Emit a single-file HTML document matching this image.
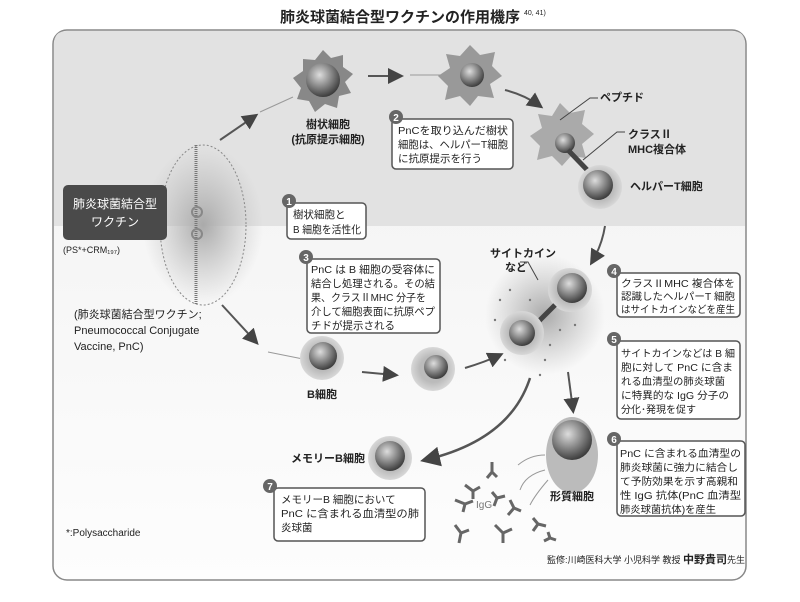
<!DOCTYPE html>
<html><head><meta charset="utf-8"><style>
body{margin:0;background:#fff;width:800px;height:602px;overflow:hidden}
svg{display:block}
text{font-family:"Liberation Sans","Noto Sans CJK JP",sans-serif;fill:#222}
.b{font-weight:bold}
.bx{fill:#fff;stroke:#555;stroke-width:1.5}
.t{font-size:10.5px}
.s{font-size:10px}
</style></head><body>
<svg width="800" height="602" viewBox="0 0 800 602">
<defs>
<linearGradient id="bg" x1="0" y1="0" x2="0" y2="1">
<stop offset="0" stop-color="#f1f1f1"/><stop offset="1" stop-color="#fdfdfd"/></linearGradient>
<radialGradient id="sph" cx="0.4" cy="0.35" r="0.7"><stop offset="0" stop-color="#ddd"/><stop offset="0.5" stop-color="#888"/><stop offset="1" stop-color="#333"/></radialGradient>
<radialGradient id="cel" cx="0.5" cy="0.5" r="0.5"><stop offset="0.6" stop-color="#bbb"/><stop offset="1" stop-color="#d8d8d8"/></radialGradient>
<radialGradient id="glow" cx="0.5" cy="0.5" r="0.5"><stop offset="0" stop-color="#aaa"/><stop offset="1" stop-color="#bbb" stop-opacity="0"/></radialGradient>
<marker id="ar" markerWidth="8" markerHeight="8" refX="6" refY="4" orient="auto"><path d="M0,0 L8,4 L0,8 z" fill="#444"/></marker>
</defs>
<text x="400" y="22" text-anchor="middle" class="b" font-size="15">肺炎球菌結合型ワクチンの作用機序</text>
<text x="524" y="15" font-size="7">40, 41)</text>
<rect x="53" y="30" width="693" height="550" rx="14" fill="url(#bg)" stroke="#888" stroke-width="1.5"/>
<path d="M54,44 Q54,31 67,31 L732,31 Q745,31 745,44 L745,226 L54,226 Z" fill="#e2e2e2"/>
<ellipse cx="203" cy="225" rx="60" ry="80" fill="url(#glow)"/>
<ellipse cx="203" cy="225" rx="43" ry="80" fill="none" stroke="#888" stroke-dasharray="2,2"/>
<path d="M196,145 L196,305" stroke="#777" stroke-width="3" stroke-dasharray="1,1"/>
<circle cx="197" cy="212" r="5" fill="none" stroke="#888" stroke-width="2"/>
<circle cx="197" cy="234" r="5" fill="none" stroke="#888" stroke-width="2"/>
<rect x="63" y="185" width="104" height="55" rx="5" fill="#4a4a4a"/>
<text x="115" y="208" text-anchor="middle" font-size="12" style="fill:#fff">肺炎球菌結合型</text>
<text x="115" y="226" text-anchor="middle" font-size="12" style="fill:#fff">ワクチン</text>
<text x="63" y="253" font-size="9">(PS*+CRM₁₉₇)</text>
<text x="74" y="318" font-size="11">(肺炎球菌結合型ワクチン;</text>
<text x="74" y="334" font-size="11">Pneumococcal Conjugate</text>
<text x="74" y="350" font-size="11">Vaccine, PnC)</text>
<polygon points="323,50 331,58 343,55 343,67 353,74 345,82 351,93 339,96 337,108 325,104 315,112 309,101 297,99 301,88 293,78 303,71 303,59 315,60" fill="#888"/>
<circle cx="323" cy="80" r="17" fill="url(#sph)"/>
<text x="328" y="128" text-anchor="middle" class="b" font-size="11">樹状細胞</text>
<text x="328" y="143" text-anchor="middle" class="b" font-size="11">(抗原提示細胞)</text>
<line x1="220" y1="140" x2="255" y2="116" stroke="#555" stroke-width="2" marker-end="url(#ar)"/>
<line x1="260" y1="112" x2="293" y2="97" stroke="#999"/>
<line x1="368" y1="76" x2="400" y2="76" stroke="#555" stroke-width="2" marker-end="url(#ar)"/>
<line x1="410" y1="75" x2="460" y2="75" stroke="#999"/>
<polygon points="470,45 480,55 495,52 492,66 502,76 490,84 494,98 478,96 470,106 460,96 445,100 448,86 438,76 450,68 446,54 460,56" fill="#999"/>
<circle cx="472" cy="75" r="12" fill="url(#sph)"/>
<path d="M505,90 Q525,95 540,106" stroke="#555" stroke-width="2" fill="none" marker-end="url(#ar)"/>
<rect x="392" y="119" width="121" height="50" rx="4" class="bx"/>
<circle cx="396" cy="117" r="7" fill="#666"/><text x="396" y="121" text-anchor="middle" font-size="10" class="b" style="fill:#fff">2</text>
<text x="398" y="134" class="t" textLength="110" lengthAdjust="spacingAndGlyphs">PnCを取り込んだ樹状</text>
<text x="398" y="148" class="t" textLength="110" lengthAdjust="spacingAndGlyphs">細胞は、ヘルパーT細胞</text>
<text x="398" y="162" class="t">に抗原提示を行う</text>
<polygon points="560,103 570,113 585,110 582,124 594,134 582,144 586,158 571,156 562,166 552,156 537,160 540,146 530,136 542,128 538,114 552,116" fill="#aaa"/>
<circle cx="565" cy="143" r="10" fill="url(#sph)"/>
<line x1="568" y1="150" x2="592" y2="175" stroke="#444" stroke-width="5"/>
<circle cx="600" cy="187" r="22" fill="url(#cel)"/><circle cx="598" cy="185" r="15" fill="url(#sph)"/>
<path d="M560,120 L590,98 L598,98" stroke="#444" fill="none"/>
<text x="600" y="101" class="b" font-size="11">ペプチド</text>
<path d="M583,160 L617,132 L625,132" stroke="#444" fill="none"/>
<text x="628" y="138" class="b" font-size="11">クラスⅡ</text>
<text x="628" y="153" class="b" font-size="11">MHC複合体</text>
<text x="630" y="190" class="b" font-size="11">ヘルパーT細胞</text>
<rect x="287" y="203" width="79" height="36" rx="4" class="bx"/>
<circle cx="289" cy="201" r="7" fill="#666"/><text x="289" y="205" text-anchor="middle" font-size="10" class="b" style="fill:#fff">1</text>
<text x="293" y="218" class="t">樹状細胞と</text>
<text x="293" y="233" class="t" textLength="68" lengthAdjust="spacingAndGlyphs">B 細胞を活性化</text>
<rect x="307" y="259" width="133" height="74" rx="4" class="bx"/>
<circle cx="306" cy="257" r="7" fill="#666"/><text x="306" y="261" text-anchor="middle" font-size="10" class="b" style="fill:#fff">3</text>
<g class="t"><text x="311" y="273" textLength="124" lengthAdjust="spacingAndGlyphs">PnC は B 細胞の受容体に</text>
<text x="311" y="287" textLength="124" lengthAdjust="spacingAndGlyphs">結合し処理される。その結</text>
<text x="311" y="301" textLength="115" lengthAdjust="spacingAndGlyphs">果、クラスⅡMHC 分子を</text>
<text x="311" y="315" textLength="124" lengthAdjust="spacingAndGlyphs">介して細胞表面に抗原ペプ</text>
<text x="311" y="329">チドが提示される</text></g>
<circle cx="545" cy="315" r="60" fill="url(#glow)"/>
<text x="490" y="257" class="b" font-size="11">サイトカイン</text>
<text x="505" y="271" class="b" font-size="11">など</text>
<path d="M520,262 L528,262 L538,280" stroke="#444" fill="none"/>
<path d="M605,226 Q602,245 592,262" stroke="#555" stroke-width="2" fill="none" marker-end="url(#ar)"/>
<circle cx="570" cy="290" r="22" fill="url(#cel)"/><circle cx="572" cy="288" r="15" fill="url(#sph)"/>
<line x1="555" y1="305" x2="535" y2="325" stroke="#444" stroke-width="5"/>
<circle cx="522" cy="333" r="22" fill="url(#cel)"/><circle cx="522" cy="333" r="13" fill="url(#sph)"/>
<g fill="#777"><circle cx="500" cy="300" r="1.2"/><circle cx="510" cy="290" r="1.2"/><circle cx="495" cy="320" r="1.2"/><circle cx="550" cy="345" r="1.2"/><circle cx="560" cy="330" r="1.2"/><circle cx="545" cy="360" r="1.2"/><circle cx="505" cy="360" r="1.2"/><circle cx="530" cy="300" r="1.2"/><circle cx="575" cy="325" r="1.2"/><circle cx="540" cy="375" r="1.2"/></g>
<rect x="617" y="273" width="123" height="44" rx="4" class="bx"/>
<circle cx="614" cy="271" r="7" fill="#666"/><text x="614" y="275" text-anchor="middle" font-size="10" class="b" style="fill:#fff">4</text>
<g class="s"><text x="621" y="287" textLength="114" lengthAdjust="spacingAndGlyphs">クラスⅡMHC 複合体を</text>
<text x="621" y="300" textLength="114" lengthAdjust="spacingAndGlyphs">認識したヘルパーT 細胞</text>
<text x="621" y="313" textLength="114" lengthAdjust="spacingAndGlyphs">はサイトカインなどを産生</text></g>
<rect x="617" y="341" width="123" height="78" rx="4" class="bx"/>
<circle cx="614" cy="339" r="7" fill="#666"/><text x="614" y="343" text-anchor="middle" font-size="10" class="b" style="fill:#fff">5</text>
<g class="s"><text x="621" y="357" textLength="114" lengthAdjust="spacingAndGlyphs">サイトカインなどは B 細</text>
<text x="621" y="371" textLength="112" lengthAdjust="spacingAndGlyphs">胞に対して PnC に含ま</text>
<text x="621" y="385" textLength="104" lengthAdjust="spacingAndGlyphs">れる血清型の肺炎球菌</text>
<text x="621" y="399" textLength="108" lengthAdjust="spacingAndGlyphs">に特異的な IgG 分子の</text>
<text x="621" y="413">分化･発現を促す</text></g>
<rect x="617" y="441" width="128" height="75" rx="4" class="bx"/>
<circle cx="614" cy="439" r="7" fill="#666"/><text x="614" y="443" text-anchor="middle" font-size="10" class="b" style="fill:#fff">6</text>
<g class="s"><text x="620" y="457" textLength="121" lengthAdjust="spacingAndGlyphs">PnC に含まれる血清型の</text>
<text x="620" y="471" textLength="118" lengthAdjust="spacingAndGlyphs">肺炎球菌に強力に結合し</text>
<text x="620" y="485" textLength="118" lengthAdjust="spacingAndGlyphs">て予防効果を示す高親和</text>
<text x="620" y="499" textLength="121" lengthAdjust="spacingAndGlyphs">性 IgG 抗体(PnC 血清型</text>
<text x="620" y="513" textLength="96" lengthAdjust="spacingAndGlyphs">肺炎球菌抗体)を産生</text></g>
<line x1="222" y1="305" x2="256" y2="342" stroke="#555" stroke-width="2" marker-end="url(#ar)"/>
<line x1="268" y1="352" x2="308" y2="360" stroke="#999"/>
<circle cx="322" cy="358" r="22" fill="url(#cel)"/><circle cx="323" cy="356" r="14" fill="url(#sph)"/>
<text x="322" y="398" text-anchor="middle" class="b" font-size="11">B細胞</text>
<line x1="362" y1="372" x2="395" y2="375" stroke="#555" stroke-width="2" marker-end="url(#ar)"/>
<circle cx="433" cy="369" r="22" fill="url(#cel)"/><circle cx="436" cy="367" r="12" fill="url(#sph)"/>
<path d="M465,368 Q485,362 500,355" stroke="#555" stroke-width="2" fill="none" marker-end="url(#ar)"/>
<path d="M530,378 Q510,440 425,460" stroke="#555" stroke-width="2.5" fill="none" marker-end="url(#ar)"/>
<line x1="568" y1="372" x2="573" y2="410" stroke="#555" stroke-width="2" marker-end="url(#ar)"/>
<ellipse cx="572" cy="455" rx="26" ry="38" fill="#bbb"/>
<circle cx="572" cy="440" r="20" fill="url(#sph)"/>
<text x="572" y="500" text-anchor="middle" class="b" font-size="11">形質細胞</text>
<circle cx="390" cy="458" r="22" fill="url(#cel)"/><circle cx="390" cy="456" r="15" fill="url(#sph)"/>
<text x="328" y="462" text-anchor="middle" class="b" font-size="11">メモリーB細胞</text>
<rect x="274" y="488" width="151" height="53" rx="4" class="bx"/>
<circle cx="270" cy="486" r="7" fill="#666"/><text x="270" y="490" text-anchor="middle" font-size="10" class="b" style="fill:#fff">7</text>
<g class="t"><text x="281" y="503">メモリーB 細胞において</text>
<text x="281" y="517" textLength="138" lengthAdjust="spacingAndGlyphs">PnC に含まれる血清型の肺</text>
<text x="281" y="531">炎球菌</text></g>
<g stroke="#666" stroke-width="3" fill="none">
<path d="M492,462 l0,10 m0,0 l-5,6 m5,-6 l5,5"/>
<path d="M465,485 l8,6 m0,0 l0,8 m0,-8 l7,-4"/>
<path d="M492,492 l5,6 m0,0 l-3,8 m3,-8 l8,-2"/>
<path d="M455,500 l10,4 m0,0 l-2,8 m2,-8 l8,-3"/>
<path d="M510,500 l4,8 m0,0 l-6,7 m6,-7 l7,3"/>
<path d="M455,525 l6,8 m0,0 l-2,10 m2,-10 l8,-3"/>
<path d="M495,525 l8,8 m0,0 l0,10 m0,-10 l9,-4"/>
<path d="M533,518 l5,6 m0,0 l-5,7 m5,-7 l8,2"/>
<path d="M548,532 l2,6 m0,0 l-6,3 m6,-3 l6,2"/>
</g>
<g stroke="#999" fill="none"><path d="M545,455 Q530,455 518,465"/><path d="M545,470 Q525,475 520,490"/><path d="M548,480 Q535,495 530,505"/></g>
<text x="476" y="508" font-size="10" style="fill:#777">IgG</text>
<text x="66" y="536" font-size="10">*:Polysaccharide</text>
<text x="745" y="563" text-anchor="end" font-size="9">監修:川崎医科大学 小児科学 教授 <tspan class="b" font-size="11">中野貴司</tspan>先生</text>
</svg>
</body></html>
